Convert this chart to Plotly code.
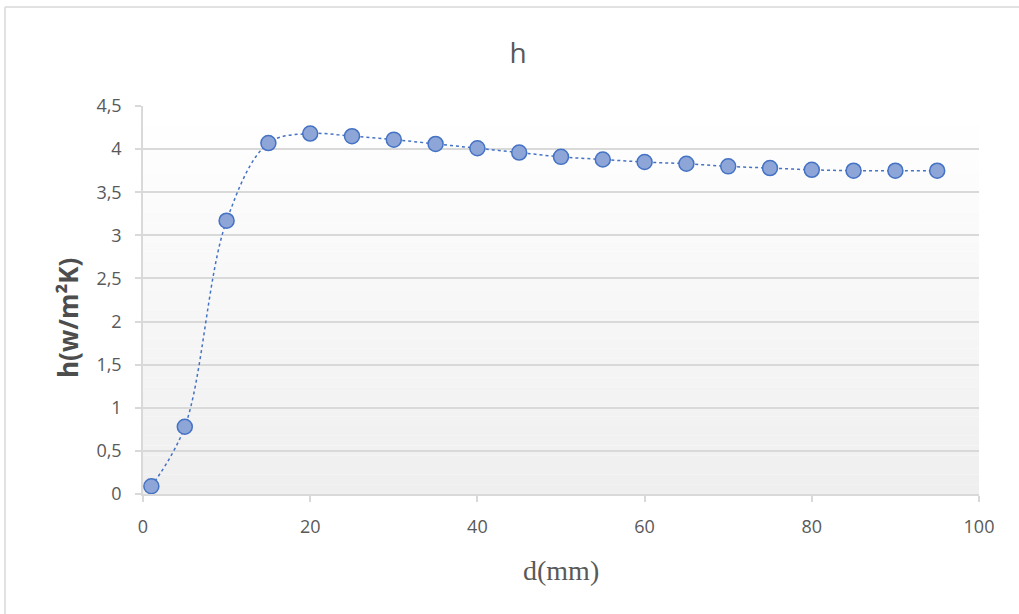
import plotly.graph_objects as go

d_mm = [1, 5, 10, 15, 20, 25, 30, 35, 40, 45, 50, 55, 60, 65, 70, 75, 80, 85, 90, 95]
h_vals = [0.09, 0.78, 3.17, 4.07, 4.18, 4.15, 4.11, 4.06, 4.01, 3.96, 3.91, 3.88, 3.85, 3.83, 3.80, 3.78, 3.76, 3.75, 3.75, 3.75]
x_ticks = [0, 20, 40, 60, 80, 100]
y_ticks = [0, 0.5, 1, 1.5, 2, 2.5, 3, 3.5, 4, 4.5]

W, H = 1019, 614
L, T = 143, 106
R = W - 979
B = H - 494
pw, ph = W - L - R, H - T - B

def px_x(px):
    return (px - L) / pw

def px_y(py):
    return (H - B - py) / ph

fig = go.Figure()

fig.add_trace(go.Scatter(
    x=d_mm, y=h_vals, mode="lines+markers",
    line=dict(shape="spline", smoothing=1.0, color="#4472C4", width=1.5, dash="dot"),
    marker=dict(size=15, color="#8EA5D8", line=dict(color="#4472C4", width=1.5)),
    showlegend=False, cliponaxis=False, hoverinfo="skip",
))

shapes = []
n = 40
for i in range(n):
    t = i / (n - 1)
    c = int(round(255 - (255 - 239) * (1 - t)))
    shapes.append(dict(type="rect", xref="x domain", yref="y domain",
                       x0=0, x1=1, y0=i / n, y1=(i + 1) / n,
                       fillcolor=f"rgb({c},{c},{c})", line=dict(width=0), layer="below"))
border = dict(color="#D9D9D9", width=1.5)
shapes.append(dict(type="line", xref="paper", yref="paper",
                   x0=px_x(5), x1=px_x(1019), y0=px_y(7), y1=px_y(7), line=border))
shapes.append(dict(type="line", xref="paper", yref="paper",
                   x0=px_x(5), x1=px_x(5), y0=px_y(7), y1=px_y(614), line=border))

tickfont = dict(family="Open Sans, Liberation Sans, sans-serif", size=18, color="#595959")

fig.update_layout(
    width=W, height=H,
    margin=dict(l=L, r=R, t=T, b=B),
    paper_bgcolor="white", plot_bgcolor="rgba(0,0,0,0)",
    separators=", ",
    shapes=shapes,
    title=dict(text="h", x=518 / W, xref="container", xanchor="center",
               y=1 - 53 / H, yref="container", yanchor="middle",
               font=dict(family="Open Sans, Liberation Sans, sans-serif", size=28, color="#595959")),
    xaxis=dict(range=[0, 100], tickvals=x_ticks, showgrid=False, zeroline=False,
               showline=True, linecolor="#D9D9D9", linewidth=1.5,
               ticks="outside", ticklen=6, tickcolor="#D9D9D9", tickwidth=1.5,
               ticklabelstandoff=10, tickfont=tickfont),
    yaxis=dict(range=[0, 4.5], tickvals=y_ticks, showgrid=True, gridcolor="#D9D9D9", gridwidth=1.5,
               zeroline=False, showline=True, linecolor="#D9D9D9", linewidth=1.5,
               ticks="outside", ticklen=6, tickcolor="#D9D9D9", tickwidth=1.5,
               ticklabelstandoff=10, tickfont=tickfont),
    annotations=[
        dict(text="<b>h(w/m²K)</b>", xref="paper", yref="paper",
             x=px_x(68), y=px_y(318), showarrow=False, textangle=-90,
             xanchor="center", yanchor="middle",
             font=dict(family="Open Sans, Liberation Sans, sans-serif", size=26, color="#4D4D4D")),
        dict(text="d(mm)", xref="paper", yref="paper",
             x=px_x(561), y=px_y(570), showarrow=False,
             xanchor="center", yanchor="middle",
             font=dict(family="Liberation Serif, Times New Roman, serif", size=28, color="#595959")),
    ],
)

fig.write_html("out.html", config={"displayModeBar": False},
               post_script="document.body.style.margin='0';document.body.style.overflow='hidden';")
